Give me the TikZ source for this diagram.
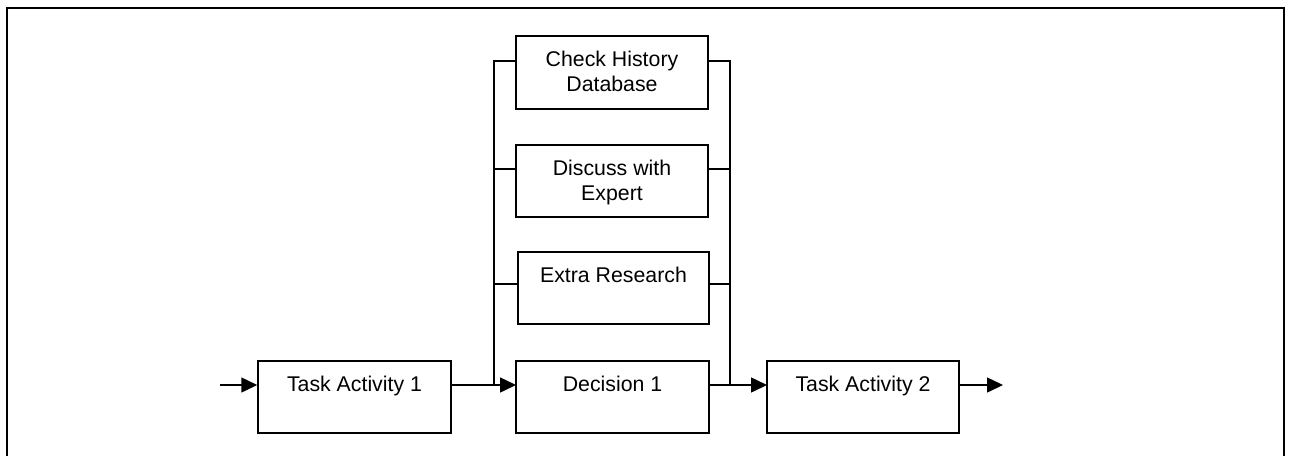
\documentclass[tikz,border=0pt]{standalone}
\usepackage{fontspec}
\setmainfont{Liberation Sans}
\usetikzlibrary{arrows.meta}
\begin{document}
\begin{tikzpicture}[x=1pt,y=-1pt,
  box/.style={draw=black,line width=1.5pt,minimum height=72pt,inner sep=0pt,fill=none},
  lbl/.style={anchor=base,inner sep=0pt,align=center,font=\fontsize{21.3pt}{25pt}\selectfont},
  conn/.style={draw=black,line width=1.5pt},
  arr/.style={conn,-{Triangle[length=16pt,width=15pt]}}]
\useasboundingbox (0,0) rectangle (1290,456);
\draw[line width=2.2pt] (7,456) -- (7,8) -- (1284,8) -- (1284,456);
% boxes
\node[box,minimum width=193pt] (t1) at (354.5,397) {};
\node[box,minimum width=192pt,minimum height=73pt] (ch) at (612,72.5) {};
\node[box,minimum width=192pt] (dw) at (612,181) {};
\node[box,minimum width=191pt] (er) at (613.5,288) {};
\node[box,minimum width=193pt] (d1) at (612.5,397) {};
\node[box,minimum width=192pt] (t2) at (863,397) {};
% labels
\node[lbl] (t1l) at ([yshift=-31.5pt]t1.north) {Task Activity 1};
\node[lbl] (chl) at ([yshift=-56.5pt]ch.north) {Check History\\Database};
\node[lbl] (dwl) at ([yshift=-56.5pt]dw.north) {Discuss with\\Expert};
\node[lbl] (erl) at ([yshift=-31.5pt]er.north) {Extra Research};
\node[lbl] (d1l) at ([yshift=-31.5pt]d1.north) {Decision 1};
\node[lbl] (t2l) at ([yshift=-31.5pt]t2.north) {Task Activity 2};
% coordinates
\coordinate (in) at (220,385);
\coordinate (out) at (1003,385);
\coordinate (t1o) at (451,385);
\coordinate (d1i) at (516,385);
\coordinate (d1o) at (709,385);
\coordinate (t2i) at (767,385);
\coordinate (t2o) at (959,385);
\coordinate (lb0) at (494,61);
\coordinate (lb1) at (494,169);
\coordinate (lb2) at (494,284);
\coordinate (lb3) at (494,385);
\coordinate (rb0) at (730,61);
\coordinate (rb1) at (730,169);
\coordinate (rb2) at (730,284);
\coordinate (rb3) at (730,385);
\coordinate (chi) at (516,61);
\coordinate (cho) at (708,61);
\coordinate (dwi) at (516,169);
\coordinate (dwo) at (708,169);
\coordinate (eri) at (518,284);
\coordinate (ero) at (709,284);
% connectors
\draw[arr] (in) -- (t1.west |- in);
\draw[arr] (t1o) -- (d1i);
\draw[arr] (d1o) -- (t2i);
\draw[arr] (t2o) -- (out);
\draw[conn] (lb3) -- (lb0) -- (chi);
\draw[conn] (lb1) -- (dwi);
\draw[conn] (lb2) -- (eri);
\draw[conn] (rb3) -- (rb0) -- (cho);
\draw[conn] (rb1) -- (dwo);
\draw[conn] (rb2) -- (ero);
\end{tikzpicture}
\end{document}
